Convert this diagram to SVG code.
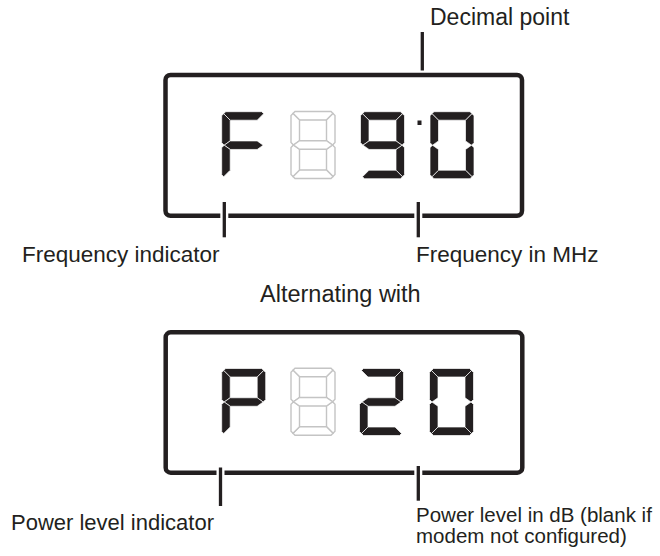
<svg xmlns="http://www.w3.org/2000/svg" width="660" height="556" viewBox="0 0 660 556" xmlns:xlink="http://www.w3.org/1999/xlink">
<style>
text{font-family:"Liberation Sans",Arial,sans-serif;fill:#231f20}
.box{fill:none;stroke:#231f20;stroke-width:4.5}
.on{fill:#231f20;stroke:#fff;stroke-width:0.7;stroke-linejoin:miter}
.off{fill:#fff;stroke:#c4c4c4;stroke-width:1.4;stroke-linejoin:miter}
.tick{stroke:#231f20;stroke-width:3.3;fill:none}
.halo{stroke:#fff;stroke-width:8;fill:none}
</style>
<defs>
<path id="sa" d="M4,0 L40,0 L42,2 L35.5,8.5 L8.5,8.5 L2,2 Z"/>
<path id="sb" d="M42,2 L44,4 L44,31 L41.5,33.5 L35.5,29.25 L35.5,8.5 Z"/>
<path id="sf" d="M2,2 L8.5,8.5 L8.5,29.25 L2.5,33.5 L0,31 L0,4 Z"/>
<path id="sg" d="M2.5,33.5 L8.5,29.25 L35.5,29.25 L41.5,33.5 L35.5,37.75 L8.5,37.75 Z"/>
<path id="se" d="M2.5,33.5 L8.5,37.75 L8.5,58.5 L2,65 L0,63 L0,36 Z"/>
<path id="sc" d="M41.5,33.5 L44,36 L44,63 L42,65 L35.5,58.5 L35.5,37.75 Z"/>
<path id="sd" d="M8.5,58.5 L35.5,58.5 L42,65 L40,67 L4,67 L2,65 Z"/>
</defs>

<g id="display-top">
<rect class="box" x="165.5" y="75" width="356.5" height="140.8" rx="5"/>
<g id="digit-F" class="on" transform="translate(221.7,111.7)">
<use xlink:href="#sa"/><use xlink:href="#sf"/><use xlink:href="#sg"/><use xlink:href="#se"/>
</g>
<g id="digit-blank-top" class="off" transform="translate(291,111.5)">
<use xlink:href="#sa"/><use xlink:href="#sb"/><use xlink:href="#sc"/><use xlink:href="#sd"/><use xlink:href="#se"/><use xlink:href="#sf"/><use xlink:href="#sg"/>
</g>
<g id="digit-9" class="on" transform="translate(360.5,111.7)">
<use xlink:href="#sa"/><use xlink:href="#sb"/><use xlink:href="#sc"/><use xlink:href="#sd"/><use xlink:href="#sf"/><use xlink:href="#sg"/>
</g>
<rect id="decimal-point" x="417.5" y="120.5" width="4" height="4.5" fill="#231f20"/>
<g id="digit-0-top" class="on" transform="translate(430,111.7)">
<use xlink:href="#sa"/><use xlink:href="#sb"/><use xlink:href="#sc"/><use xlink:href="#sd"/><use xlink:href="#se"/><use xlink:href="#sf"/>
</g>
</g>

<g id="display-bottom">
<rect class="box" x="165.7" y="332.3" width="356.6" height="140.4" rx="5"/>
<g id="digit-P" class="on" transform="translate(221.7,368.5)">
<use xlink:href="#sa"/><use xlink:href="#sb"/><use xlink:href="#sf"/><use xlink:href="#sg"/><use xlink:href="#se"/>
</g>
<g id="digit-blank-bottom" class="off" transform="translate(291,368.3)">
<use xlink:href="#sa"/><use xlink:href="#sb"/><use xlink:href="#sc"/><use xlink:href="#sd"/><use xlink:href="#se"/><use xlink:href="#sf"/><use xlink:href="#sg"/>
</g>
<g id="digit-2" class="on" transform="translate(359.5,368.5)">
<use xlink:href="#sa"/><use xlink:href="#sb"/><use xlink:href="#sg"/><use xlink:href="#se"/><use xlink:href="#sd"/>
</g>
<g id="digit-0-bottom" class="on" transform="translate(429.5,368.5)">
<use xlink:href="#sa"/><use xlink:href="#sb"/><use xlink:href="#sc"/><use xlink:href="#sd"/><use xlink:href="#se"/><use xlink:href="#sf"/>
</g>
</g>

<g id="connectors">
<line class="tick" x1="422.3" y1="32" x2="422.3" y2="70.5"/>
<line class="halo" x1="224.3" y1="208" x2="224.3" y2="224"/>
<line class="tick" x1="224.3" y1="202" x2="224.3" y2="237.3"/>
<line class="halo" x1="418.3" y1="208" x2="418.3" y2="224"/>
<line class="tick" x1="418.3" y1="202" x2="418.3" y2="237.3"/>
<line class="halo" x1="220.5" y1="465" x2="220.5" y2="481"/>
<line class="tick" x1="220.5" y1="467.5" x2="220.5" y2="506"/>
<line class="halo" x1="418.3" y1="465" x2="418.3" y2="481"/>
<line class="tick" x1="418.3" y1="466" x2="418.3" y2="500.7"/>
</g>

<g id="labels">
<text x="430" y="25" font-size="23">Decimal point</text>
<text x="22" y="262" font-size="22.5">Frequency indicator</text>
<text x="416" y="262" font-size="22.5">Frequency in MHz</text>
<text x="260" y="301.5" font-size="23.5">Alternating with</text>
<text x="11" y="530" font-size="22">Power level indicator</text>
<text x="416" y="522" font-size="20.5">Power level in dB (blank if</text>
<text x="416" y="542.7" font-size="20.5">modem not configured)</text>
</g>
</svg>
